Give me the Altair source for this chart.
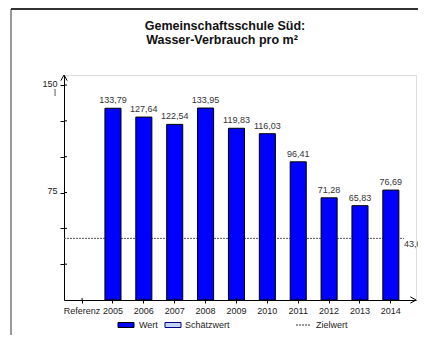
import altair as alt
import pandas as pd

categories = ["Referenz", "2005", "2006", "2007", "2008", "2009", "2010", "2011", "2012", "2013", "2014"]
years = categories[1:]
values = [133.79, 127.64, 122.54, 133.95, 119.83, 116.03, 96.41, 71.28, 65.83, 76.69]
value_labels = ["133,79", "127,64", "122,54", "133,95", "119,83", "116,03", "96,41", "71,28", "65,83", "76,69"]
target = [43.0]
target_label = ["43,00"]
y_ticks = [25, 50, 75, 100, 125, 150]
y_max = [157]
unit_label = "l"
title_lines = ["Gemeinschaftsschule Süd:", "Wasser-Verbrauch pro m²"]
legend_items = ["Wert", "Schätzwert", "Zielwert"]

FONT = "Liberation Sans"
W, H = 352, 225

bars_df = pd.DataFrame({"year": years, "value": values, "label": value_labels})
target_df = pd.DataFrame({"value": target, "label": target_label})
top_df = pd.DataFrame({"value": y_max})
unit_df = pd.DataFrame({"value": [150], "label": [unit_label]})
zero_df = pd.DataFrame({"value": [0]})
yticks_df = pd.DataFrame({"value": y_ticks})
xticks_df = pd.DataFrame({"year": categories})
one = pd.DataFrame({"a": [0]})

x_scale = alt.Scale(domain=categories, paddingInner=0.48, paddingOuter=0.44, align=0.37)
x_enc = alt.X(
    "year:N",
    scale=x_scale,
    axis=alt.Axis(title=None, labelAngle=0, labelFont=FONT, labelFontSize=9, labelColor="#222",
                  tickColor="black", tickSize=3, domainColor="black", labelPadding=3),
)
y_enc = alt.Y(
    "value:Q",
    scale=alt.Scale(domain=[0, y_max[0]], nice=False, zero=True),
    axis=alt.Axis(title=None, values=y_ticks, grid=False,
                  labelExpr="datum.value == 75 || datum.value == 150 ? datum.label : ''",
                  labelFont=FONT, labelFontSize=9, labelColor="#222", labelOffset=-2,
                  tickColor="black", tickSize=4, domainColor="black", labelPadding=3),
)

bars = alt.Chart(bars_df).mark_bar(color="#0000ff", stroke="black", strokeWidth=1).encode(x=x_enc, y=y_enc)
labels = alt.Chart(bars_df).mark_text(dy=-3, baseline="bottom", font=FONT, fontSize=9, color="#333").encode(
    x=x_enc, y=y_enc, text="label:N")

target_rule = alt.Chart(target_df).mark_rule(strokeDash=[2, 1], color="#555", strokeWidth=1).encode(
    y=y_enc, x=alt.value(0), x2=alt.value(340))
target_text = alt.Chart(target_df).mark_text(align="left", baseline="middle", dy=6, font=FONT, fontSize=9,
                                             color="#333").encode(y=y_enc, x=alt.value(340), text="label:N")

# inner halves of the axis ticks (ticks cross the axis lines)
y_inner = alt.Chart(yticks_df).mark_rule(color="black", strokeWidth=1).encode(
    y=y_enc, x=alt.value(0), x2=alt.value(3))
x_inner = alt.Chart(xticks_df).mark_rule(color="black", strokeWidth=1).encode(
    x=x_enc, y=alt.value(H - 2), y2=alt.value(H))

y_arrow = alt.Chart(top_df).mark_point(shape="M-1,1.8L0,0L1,1.8", size=40, filled=False, stroke="black",
                                       strokeWidth=1, opacity=1).encode(y=y_enc, x=alt.value(0))
x_arrow = alt.Chart(zero_df).mark_point(shape="M-1.8,-1L0,0L-1.8,1", size=40, filled=False, stroke="black",
                                        strokeWidth=1, opacity=1).encode(y=y_enc, x=alt.value(W))
unit = alt.Chart(unit_df).mark_text(dy=8, font=FONT, fontSize=9, color="#333").encode(
    y=y_enc, x=alt.value(-9), text="label:N")

title1 = alt.Chart(one).mark_text(text=title_lines[0], font=FONT, fontSize=12.5, fontWeight="bold",
                                  color="#111", baseline="middle").encode(x=alt.value(161), y=alt.value(-49))
title2 = alt.Chart(one).mark_text(text=title_lines[1], font=FONT, fontSize=12.5, fontWeight="bold",
                                  color="#111", baseline="middle").encode(x=alt.value(158), y=alt.value(-35))

frame_top = alt.Chart(one).mark_rule(color="#333", strokeWidth=2).encode(
    x=alt.value(-53), x2=alt.value(354), y=alt.value(-66))
frame_left = alt.Chart(one).mark_rule(color="#333", strokeWidth=1).encode(
    x=alt.value(-53), y=alt.value(-66), y2=alt.value(270))

leg_rect1 = alt.Chart(one).mark_rect(color="#0000ff", stroke="black", strokeWidth=1).encode(
    x=alt.value(54), x2=alt.value(70), y=alt.value(247.5), y2=alt.value(252.5))
leg_rect2 = alt.Chart(one).mark_rect(color="#c4d4f4", stroke="#000080", strokeWidth=1).encode(
    x=alt.value(101), x2=alt.value(117), y=alt.value(247.5), y2=alt.value(252.5))
leg_dash = alt.Chart(one).mark_rule(color="#333", strokeDash=[2, 1], strokeWidth=1).encode(
    x=alt.value(232), x2=alt.value(246), y=alt.value(250))
leg_text_style = dict(align="left", baseline="middle", font=FONT, fontSize=9, color="#222")
leg_t1 = alt.Chart(one).mark_text(text=legend_items[0], **leg_text_style).encode(x=alt.value(75), y=alt.value(250))
leg_t2 = alt.Chart(one).mark_text(text=legend_items[1], **leg_text_style).encode(x=alt.value(121), y=alt.value(250))
leg_t3 = alt.Chart(one).mark_text(text=legend_items[2], **leg_text_style).encode(x=alt.value(252), y=alt.value(250))

chart = alt.layer(
    frame_top, frame_left, target_rule, bars, labels, target_text, y_inner, x_inner, y_arrow, x_arrow, unit,
    title1, title2, leg_rect1, leg_rect2, leg_dash, leg_t1, leg_t2, leg_t3,
).properties(
    width=W, height=H,
    autosize=alt.AutoSizeParams(type="none"),
    padding={"left": 56, "top": 67, "right": 2, "bottom": 35},
).configure_view(stroke=None).configure(background="white")

chart.save("out.html", embed_options={"renderer": "svg", "actions": False})
